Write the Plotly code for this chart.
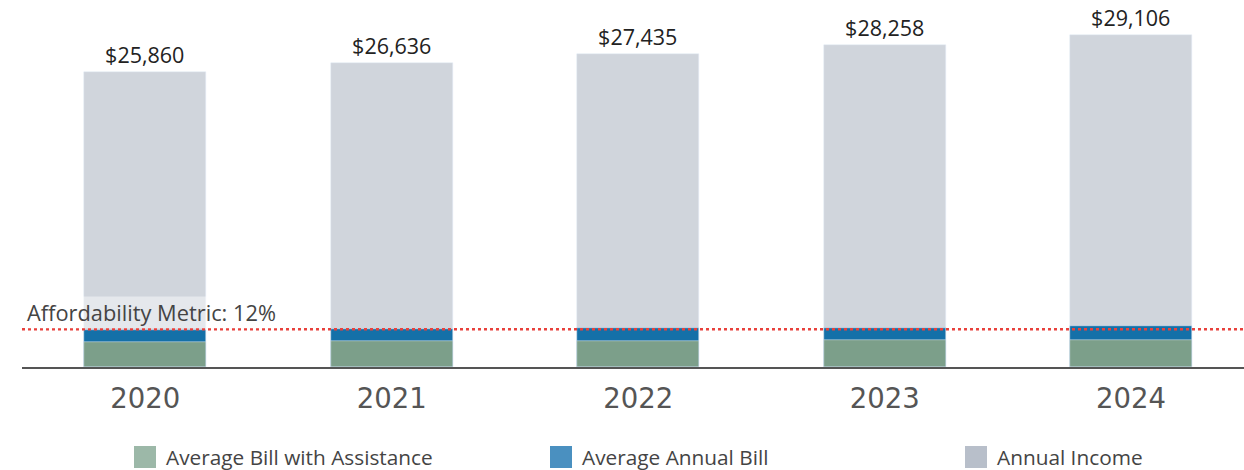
import plotly.graph_objects as go

years = ["2020", "2021", "2022", "2023", "2024"]
annual_income = [25860, 26636, 27435, 28258, 29106]
average_annual_bill = [3210, 3330, 3380, 3450, 3560]
bill_with_assistance = [2190, 2290, 2290, 2400, 2410]
affordability_line = 3300
affordability_label = "Affordability Metric: 12%"
legend_labels = ["Average Bill with Assistance", "Average Annual Bill", "Annual Income"]

FONT = "Open Sans"
c_income = "#d0d5dc"
c_bill = "#1470a8"
c_assist = "#7c9f8a"
leg_colors = ["#9cb8a8", "#4a90c0", "#b8bfca"]

PW, PH = 1222, 367  # plot area size in px

fig = go.Figure()
fig.add_bar(x=years, y=annual_income, marker_color=c_income, width=0.495,
            text=[f"${v:,}" for v in annual_income], textposition="outside",
            textfont=dict(size=21.5, color="#222", family=FONT), cliponaxis=False,
            name=legend_labels[2], showlegend=False)
fig.add_bar(x=years, y=average_annual_bill, marker_color=c_bill, width=0.495,
            name=legend_labels[1], showlegend=False)
fig.add_bar(x=years, y=bill_with_assistance, marker_color=c_assist, width=0.495,
            name=legend_labels[0], showlegend=False)

fig.add_shape(type="line", xref="paper", yref="y", x0=0, x1=1,
              y0=affordability_line, y1=affordability_line,
              line=dict(color="#e8413c", width=2.5, dash="dot"), layer="above")
fig.add_annotation(xref="paper", yref="y", x=3 / PW, y=affordability_line,
                   xanchor="left", yanchor="bottom", yshift=0,
                   text=affordability_label, showarrow=False,
                   font=dict(size=21.8, color="#444", family=FONT),
                   bgcolor="rgba(255,255,255,0.45)", borderpad=1)

# manual legend
leg_x = [134, 550, 965]  # left edge of swatch in page px
for lx, lab, col in zip(leg_x, legend_labels, leg_colors):
    fig.add_shape(type="rect", xref="paper", yref="paper",
                  x0=(lx - 22) / PW, x1=(lx) / PW,
                  y0=-(446 - PH) / PH, y1=-(468 - PH) / PH,
                  fillcolor=col, line_width=0)
    fig.add_annotation(xref="paper", yref="paper", x=(lx + 8) / PW, y=-(457 - PH) / PH,
                       xanchor="left", yanchor="middle", text=lab, showarrow=False,
                       font=dict(size=20.8, color="#444", family=FONT))

fig.update_layout(
    barmode="overlay", bargap=0,
    width=1244, height=470,
    margin=dict(l=22, r=0, t=0, b=103),
    plot_bgcolor="white", paper_bgcolor="white",
    showlegend=False,
    font=dict(family=FONT),
)
fig.update_xaxes(range=[-0.5, 4.458], showgrid=False, showline=True,
                 linecolor="#555", linewidth=1.5, ticks="", ticklabelstandoff=6,
                 tickfont=dict(size=27.5, color="#555", family="DejaVu Sans"))
fig.update_yaxes(range=[0, 32170], showgrid=False, showticklabels=False,
                 zeroline=False, showline=False)

fig.write_html("out.html", config={"displayModeBar": False},
               post_script="document.body.style.margin='0px';")
